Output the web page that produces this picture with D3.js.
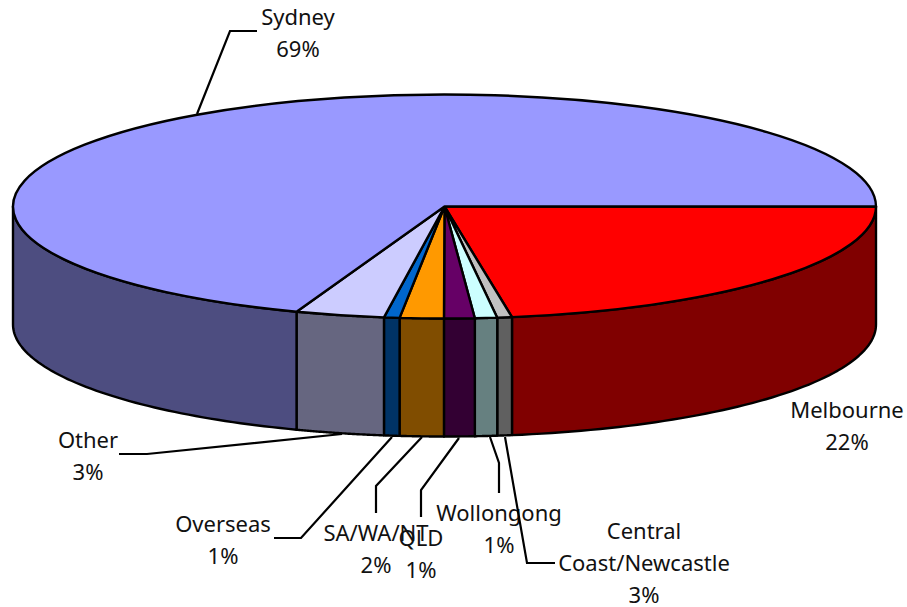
<!DOCTYPE html>
<html><head><meta charset="utf-8">
<script src="https://cdn.jsdelivr.net/npm/d3@7"></script>
<style>html,body{margin:0;padding:0;background:#fff}svg{display:block}text{font-family:"Noto Sans",sans-serif;font-size:22px;fill:#111}</style>
</head><body><svg id="c" width="907" height="607"></svg>
<script>
// Slice order runs clockwise from the right-hand edge of the disc.
const categories = ["Melbourne","Central Coast/Newcastle","Wollongong","QLD","SA/WA/NT","Overseas","Other","Sydney"];
const values = [22.5,0.55,0.83,1.14,1.64,0.58,3.33,69.43];
const percentLabels = ["22%","3%","1%","1%","2%","1%","3%","69%"];
const topColors = ["#FF0000","#C0C0C0","#CCFFFF","#660066","#FF9900","#0066CC","#CCCCFF","#9999FF"];
const sideColors = ["#800000","#606060","#668080","#330033","#804D00","#003366","#666680","#4D4D80"];

const labelLines = [["Melbourne"],["Central","Coast/Newcastle"],["Wollongong"],["QLD"],["SA/WA/NT"],["Overseas"],["Other"],["Sydney"]];
const labelCenters = [847,644,499,421,376,223,88,298];
const labelBaselines = [418,539,521,546,541,532,448,25];
const lineStep = 32;
const leaders = [
  null,
  [[505,437],[527,563],[555,563]],
  [[490,437],[499,463],[499,493]],
  [[459,438],[421,490],[421,517]],
  [[422,437],[376,486],[376,513]],
  [[392,437],[301,538],[274,538]],
  [[342,434],[147,454],[119,454]],
  [[197,114],[230,31],[257,31]]
];

const cx=444.5, cy=206.5, rx=431.5, ry=112, depth=118;
const svg=d3.select("#c");
const pie=d3.pie().sort(null).value(d=>d).startAngle(Math.PI/2).endAngle(Math.PI*2.5);
const arcs=pie(values);
const toT=a=>a-Math.PI/2; // d3 angle -> screen angle from +x
const px=t=>cx+rx*Math.cos(t), py=t=>cy+ry*Math.sin(t);

// side walls (visible front half only)
const line=d3.line();
const walls=svg.append("g");
arcs.forEach((d,i)=>{
  const t0=toT(d.startAngle), t1=Math.min(toT(d.endAngle),Math.PI);
  if(t0>=Math.PI) return;
  const ts=d3.range(0,61).map(k=>t0+(t1-t0)*k/60);
  const pts=ts.map(t=>[px(t),py(t)]).concat(ts.slice().reverse().map(t=>[px(t),py(t)+depth]));
  walls.append("path").attr("d",line(pts)+"Z").attr("fill",sideColors[i])
    .attr("stroke","#000").attr("stroke-width",2.4).attr("stroke-linejoin","round");
});

// top disc
const arc=d3.arc().innerRadius(0).outerRadius(rx);
svg.append("g").attr("transform",`translate(${cx},${cy}) scale(1,${ry/rx})`)
  .selectAll("path").data(arcs).join("path")
  .attr("d",arc).attr("fill",(d,i)=>topColors[i])
  .attr("stroke","#000").attr("stroke-width",2.4).attr("stroke-linejoin","round")
  .attr("vector-effect","non-scaling-stroke");

// labels + leaders
const lab=svg.append("g");
categories.forEach((c,i)=>{
  const t=lab.append("text").attr("text-anchor","middle");
  const lines=labelLines[i].concat(percentLabels[i]);
  lines.forEach((s,k)=>t.append("tspan").attr("x",labelCenters[i]).attr("y",labelBaselines[i]+k*lineStep).text(s));
});
leaders.forEach(l=>{ if(l) lab.append("path").attr("d",line(l)).attr("fill","none").attr("stroke","#000").attr("stroke-width",2.2); });
</script></body></html>
